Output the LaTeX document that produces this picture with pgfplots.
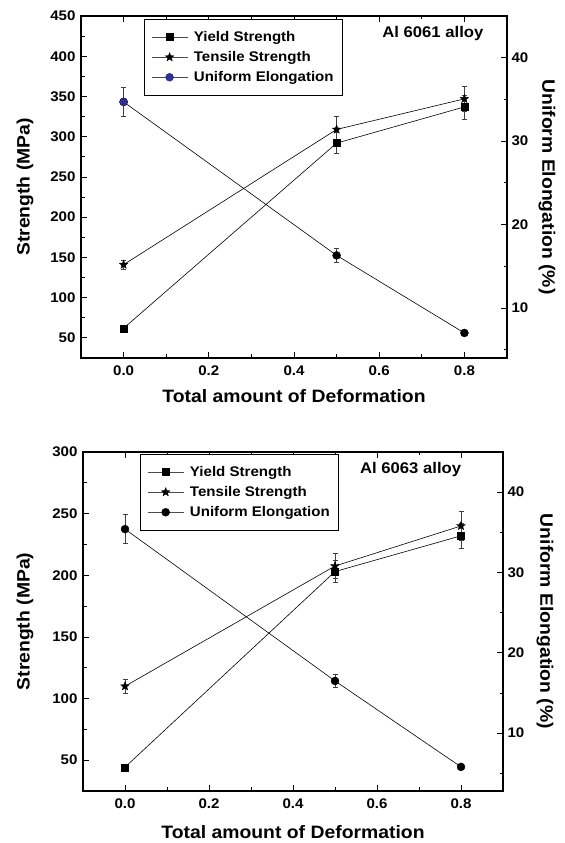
\documentclass[border=0pt]{standalone}
\usepackage{pgfplots}
\pgfplotsset{compat=1.18}
\usepackage{fontspec}
\setmainfont{Liberation Sans}[FakeStretch=1.08]
\definecolor{ueblue}{HTML}{2E3192}
\pgfdeclareplotmark{fstar}{%
  \pgfpathmoveto{\pgfpointpolar{90}{\pgfplotmarksize}}%
  \pgfpathlineto{\pgfpointpolar{126}{0.42\pgfplotmarksize}}%
  \pgfpathlineto{\pgfpointpolar{162}{\pgfplotmarksize}}%
  \pgfpathlineto{\pgfpointpolar{198}{0.42\pgfplotmarksize}}%
  \pgfpathlineto{\pgfpointpolar{234}{\pgfplotmarksize}}%
  \pgfpathlineto{\pgfpointpolar{270}{0.42\pgfplotmarksize}}%
  \pgfpathlineto{\pgfpointpolar{306}{\pgfplotmarksize}}%
  \pgfpathlineto{\pgfpointpolar{342}{0.42\pgfplotmarksize}}%
  \pgfpathlineto{\pgfpointpolar{18}{\pgfplotmarksize}}%
  \pgfpathlineto{\pgfpointpolar{54}{0.42\pgfplotmarksize}}%
  \pgfpathclose
  \pgfusepathqfillstroke
}
\pgfplotsset{
  base/.style={
    scale only axis, anchor=south west,
    /pgf/number format/assume math mode=true,
    tick label style={font=\fontsize{14}{15}\selectfont\bfseries, black},
    label style={font=\fontsize{18}{19}\selectfont\bfseries},
    axis line style={line width=1.2bp},
    major tick length=6bp, minor tick length=3.5bp,
    tick align=inside,
    every tick/.style={black, line width=0.8bp},
    xmin=-0.1, xmax=0.9,
  },
  leftax/.style={
    base,
    xtick={0,0.2,0.4,0.6,0.8}, minor xtick={0.1,0.3,0.5,0.7},
    xticklabel style={/pgf/number format/.cd,fixed,fixed zerofill,precision=1,/tikz/.cd,yshift=-4bp},
    yticklabel style={xshift=-2bp},
    xtick pos=both, xticklabel pos=bottom, ytick pos=left,
    xlabel={Total amount of Deformation}, ylabel={Strength (MPa)},
    legend cell align=left,
    legend style={draw=black, line width=0.5bp, fill=white,
      font=\fontsize{14}{15}\selectfont\bfseries, row sep=4.5bp,
      inner xsep=7bp, inner ysep=10bp},
    legend image code/.code={\draw[mark=none, line width=0.6bp, black!70] (0bp,0bp) -- (36bp,0bp); \draw[line width=0.4bp] plot coordinates {(18bp,0bp)}; \path (40bp,0bp);},
  },
  rightax/.style={
    base,
    axis y line*=right, axis x line=none,
    ytick={10,20,30,40}, minor ytick={5,15,25,35},
    yticklabel style={xshift=1bp},
    ylabel={Uniform Elongation (\%)},
  },
  dline/.style={black, line width=0.6bp, mark options={solid, fill=black, line width=0.4bp},
    error bars/y dir=both, error bars/y explicit,
    error bars/error bar style={line width=0.6bp, black!75},
    error bars/error mark options={rotate=90, mark size=2.5bp, line width=0.6bp, black!75}},
}
\begin{document}
\begin{tikzpicture}[x=1bp,y=1bp]
\path[use as bounding box] (0,0) rectangle (565,843);
% ===== Top: Al 6061 =====
\begin{axis}[rightax, at={(81bp,485bp)}, width=426bp, height=342bp,
  ymin=4, ymax=45,
  ylabel style={at={(axis description cs:1.094,0.5)}, anchor=center, rotate=180}]
\addplot[dline, mark=*, mark size=4bp] table[x=x,y=y,y error=e] {
x y e
0 34.7 1.7
0.5 16.3 0.8
0.8 7.0 0.3
};
\addplot[only marks, mark=*, mark size=4bp, mark options={fill=ueblue, draw=ueblue!70!black, line width=0.4bp}] table[x=x,y=y] {
x y
0 34.7
};
\end{axis}
\begin{axis}[leftax, at={(81bp,485bp)}, width=426bp, height=342bp,
  ymin=25, ymax=450, ytick={50,100,...,450}, minor ytick={75,125,...,425},
  xlabel style={at={(axis description cs:0.5,-0.111)}, anchor=center},
  ylabel style={at={(axis description cs:-0.1315,0.5)}, anchor=center},
  legend style={at={(axis description cs:0.148,0.991)}, anchor=north west}]
\addplot[dline, mark=square*, mark size=3.5bp] table[x=x,y=y,y error=e] {
x y e
0 62 2
0.5 292 13
0.8 337 15
};
\addlegendentry{Yield Strength}
\addplot[dline, mark=fstar, mark size=4.5bp] table[x=x,y=y,y error=e] {
x y e
0 141 6
0.5 309 16
0.8 347 16
};
\addlegendentry{Tensile Strength}
\addlegendimage{ueblue, mark=*, mark size=4bp, mark options={fill=ueblue, line width=0.4bp}}
\addlegendentry{Uniform Elongation}
\node[font=\fontsize{15.5}{16}\selectfont\bfseries] at (axis description cs:0.826,0.95) {Al 6061 alloy};
\end{axis}
% ===== Bottom: Al 6063 =====
\begin{axis}[rightax, at={(83bp,52bp)}, width=420bp, height=339bp,
  ymin=2.8, ymax=45,
  ylabel style={at={(axis description cs:1.1,0.5)}, anchor=center, rotate=180}]
\addplot[dline, mark=*, mark size=4bp] table[x=x,y=y,y error=e] {
x y e
0 35.4 1.8
0.5 16.5 0.8
0.8 5.8 0.3
};
\end{axis}
\begin{axis}[leftax, at={(83bp,52bp)}, width=420bp, height=339bp,
  ymin=25, ymax=300, ytick={50,100,...,300}, minor ytick={75,125,...,275},
  xlabel style={at={(axis description cs:0.5,-0.12)}, anchor=center},
  ylabel style={at={(axis description cs:-0.138,0.5)}, anchor=center},
  legend style={at={(axis description cs:0.136,0.994)}, anchor=north west}]
\addplot[dline, mark=square*, mark size=3.5bp] table[x=x,y=y,y error=e] {
x y e
0 44.3 2
0.5 203 9
0.8 232 10
};
\addlegendentry{Yield Strength}
\addplot[dline, mark=fstar, mark size=4.5bp] table[x=x,y=y,y error=e] {
x y e
0 110 6
0.5 207.5 10
0.8 240 12
};
\addlegendentry{Tensile Strength}
\addlegendimage{black, mark=*, mark size=4bp, mark options={fill=black, line width=0.4bp}}
\addlegendentry{Uniform Elongation}
\node[font=\fontsize{15.5}{16}\selectfont\bfseries] at (axis description cs:0.78,0.947) {Al 6063 alloy};
\end{axis}
\end{tikzpicture}
\end{document}
